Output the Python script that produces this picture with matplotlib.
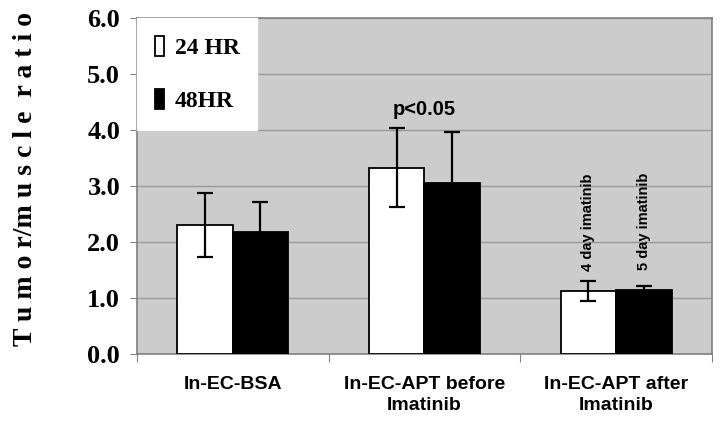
import numpy as np
import matplotlib.pyplot as plt

# data
groups = ["In-EC-BSA", "In-EC-APT before\nImatinib", "In-EC-APT after\nImatinib"]
ratio_24 = [2.30, 3.33, 1.12]
err_24 = [0.57, 0.70, 0.18]
ratio_48 = [2.18, 3.06, 1.14]
err_48 = [0.54, 0.90, 0.07]
yticks = [0.0, 1.0, 2.0, 3.0, 4.0, 5.0, 6.0]

sans = ["Liberation Sans", "DejaVu Sans"]
serif = ["Liberation Serif", "DejaVu Serif"]

fig = plt.figure(figsize=(7.2, 4.32), dpi=100)
ax = fig.add_axes([0.190, 0.1806, 0.799, 0.7774])
ax.set_facecolor("#cccccc")

x = np.arange(len(groups))
w = 0.29
ekw = dict(ecolor="black", elinewidth=1.6, capsize=6, capthick=1.6)
ax.bar(x - w / 2, ratio_24, w, yerr=err_24, color="white", edgecolor="black",
       linewidth=1.3, error_kw=ekw, label="24 HR", zorder=3)
ax.bar(x + w / 2, ratio_48, w, yerr=err_48, color="black", edgecolor="black",
       linewidth=1.3, error_kw=ekw, label="48HR", zorder=3)

ax.set_xlim(-0.5, 2.5)
ax.set_ylim(0, 6)
ax.set_yticks(yticks)
ax.set_yticklabels(["%.1f" % v for v in yticks], fontfamily=serif,
                   fontweight="bold", fontsize=19)
ax.yaxis.grid(True, color="#999999", linewidth=1)
ax.set_axisbelow(True)

# category boundaries get the tick marks, centres get the labels
ax.set_xticks(np.arange(-0.5, 3, 1.0))
ax.set_xticklabels([])
ax.set_xticks(x, minor=True)
ax.set_xticklabels(groups, minor=True, fontfamily=sans, fontweight="bold",
                   fontsize=14, linespacing=1.3)
ax.tick_params(axis="x", which="major", length=6, color="#808080")
ax.tick_params(axis="x", which="minor", length=0, pad=16)
ax.tick_params(axis="y", length=5, color="#808080", pad=7)
for s in ax.spines.values():
    s.set_color("#808080")
    s.set_linewidth(1.2)

ax.set_ylabel("T u m o r/m u s c l e  r a t i o", fontfamily=serif,
              fontweight="bold", fontsize=20)
ax.yaxis.set_label_coords(-0.172, 0.52)

ax.text(1, 4.2, "p<0.05", ha="center", va="bottom", fontfamily=sans,
        fontweight="bold", fontsize=14.5)
ax.text(2 - w / 2, 1.48, "4 day imatinib", rotation=90, ha="center", va="bottom",
        fontfamily=sans, fontweight="bold", fontsize=10.5)
ax.text(2 + w / 2, 1.5, "5 day imatinib", rotation=90, ha="center", va="bottom",
        fontfamily=sans, fontweight="bold", fontsize=10.5)

leg = ax.legend(loc="upper left", bbox_to_anchor=(0, 1), borderaxespad=0,
                prop={"family": serif, "weight": "bold", "size": 17},
                frameon=True, fancybox=False, facecolor="white", edgecolor="white",
                framealpha=1, handlelength=0.4, handleheight=0.95, handletextpad=0.45,
                labelspacing=1.25, borderpad=0.75)
leg.set_zorder(5)

fig.savefig("out.png", dpi=100)
